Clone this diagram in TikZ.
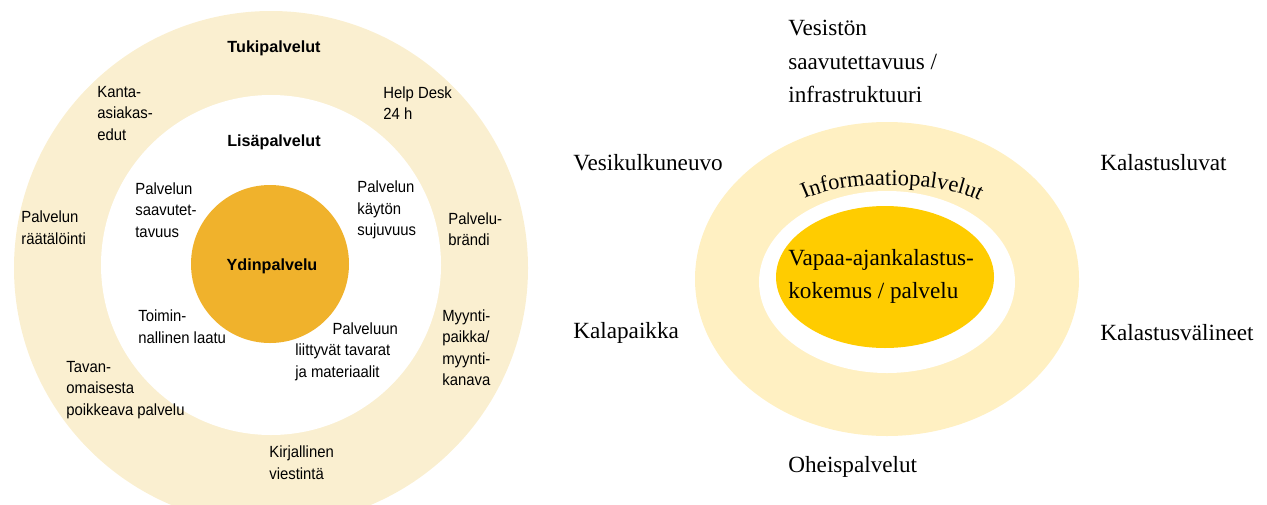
\documentclass[tikz,border=0pt]{standalone}
\usepackage{fontspec}
\setmainfont{Liberation Sans}
\newfontfamily\leftfont[FakeStretch=0.92]{Liberation Sans}
\newfontfamily\rightfont{Liberation Serif}
\usetikzlibrary{decorations.text}
\definecolor{creamring}{HTML}{FAEFD0}
\definecolor{goldcore}{HTML}{F0B22C}
\definecolor{paleyellow}{HTML}{FFF0C2}
\definecolor{sungold}{HTML}{FFCC00}
\tikzset{
	lefttext/.style={font=\leftfont\fontsize{9.2}{12.25}\selectfont, align=left, anchor=west, inner sep=0},
	lefthead/.style={font=\bfseries\fontsize{9.2}{12.25}\selectfont, inner sep=0},
	righttext/.style={font=\rightfont\fontsize{13.2}{19}\selectfont, align=left, anchor=west, inner sep=0}
}
\begin{document}
\begin{tikzpicture}[x=0.02cm, y=-0.02cm]
			\useasboundingbox (0,0) rectangle (1267,504);
			% left: service model rings
			\fill[creamring] (271,268) circle[radius=257];
			\fill[white] (271,265) circle[radius=170];
			\fill[goldcore] (270,264) circle[radius=79];
			\node (tuki) [lefthead] at (274,48) {Tukipalvelut};
			\node (lisa) [lefthead] at (274,142) {Lisäpalvelut};
			\node (ydin) [lefthead] at (272,266) {Ydinpalvelu};
			\node (kanta) [lefttext] at (97,113.5) {Kanta-\\asiakas-\\edut};
			\node (help) [lefttext] at (383,103) {Help Desk\\24 h};
			\node (saavutet) [lefttext] at (135,210) {Palvelun\\saavutet-\\tavuus};
			\node (kaytto) [lefttext] at (357,210) {Palvelun\\käytön\\sujuvuus};
			\node (raatalointi) [lefttext] at (21,227.5) {Palvelun\\räätälöinti};
			\node (brandi) [lefttext] at (448,229) {Palvelu-\\brändi};
			\node (laatu) [lefttext] at (138,326.5) {Toimin-\\nallinen laatu};
			\node (tavarat) [lefttext] at (295,351.5) {\makebox[2.05cm][r]{Palveluun}\\liittyvät tavarat\\ja materiaalit};
			\node (myynti) [lefttext] at (442,347.5) {Myynti-\\paikka/\\myynti-\\kanava};
			\node (poikkeava) [lefttext] at (66,390) {Tavan-\\omaisesta\\poikkeava palvelu};
			\node (viestinta) [lefttext] at (269,462.5) {Kirjallinen\\viestintä};
			% right: fishing experience
			\fill[paleyellow] (887,279) ellipse[x radius=192, y radius=157];
			\fill[white] (887,282) ellipse[x radius=128, y radius=91];
			\fill[sungold] (885,277) ellipse[x radius=109, y radius=71];
			\path[decorate, decoration={text along path, text align=center,
				text={|\rightfont\fontsize{12.8}{15}\selectfont|Informaatiopalvelut}}]
				(798,202.7) arc[start angle=203, end angle=342, x radius=100, y radius=29];
			\node (vesisto) [righttext] at (788,61.5) {Vesistön\\saavutettavuus /\\infrastruktuuri};
			\node (kulkuneuvo) [righttext] at (573,163) {Vesikulkuneuvo};
			\node (luvat) [righttext] at (1100,163) {Kalastusluvat};
			\node (kokemus) [righttext] at (788,276.5) {Vapaa-ajankalastus-\\kokemus / palvelu};
			\node (kalapaikka) [righttext] at (573,333) {Kalapaikka};
			\node (valineet) [righttext] at (1100,333) {Kalastusvälineet};
			\node (oheis) [righttext] at (788,467) {Oheispalvelut};

		\end{tikzpicture}
\end{document}
